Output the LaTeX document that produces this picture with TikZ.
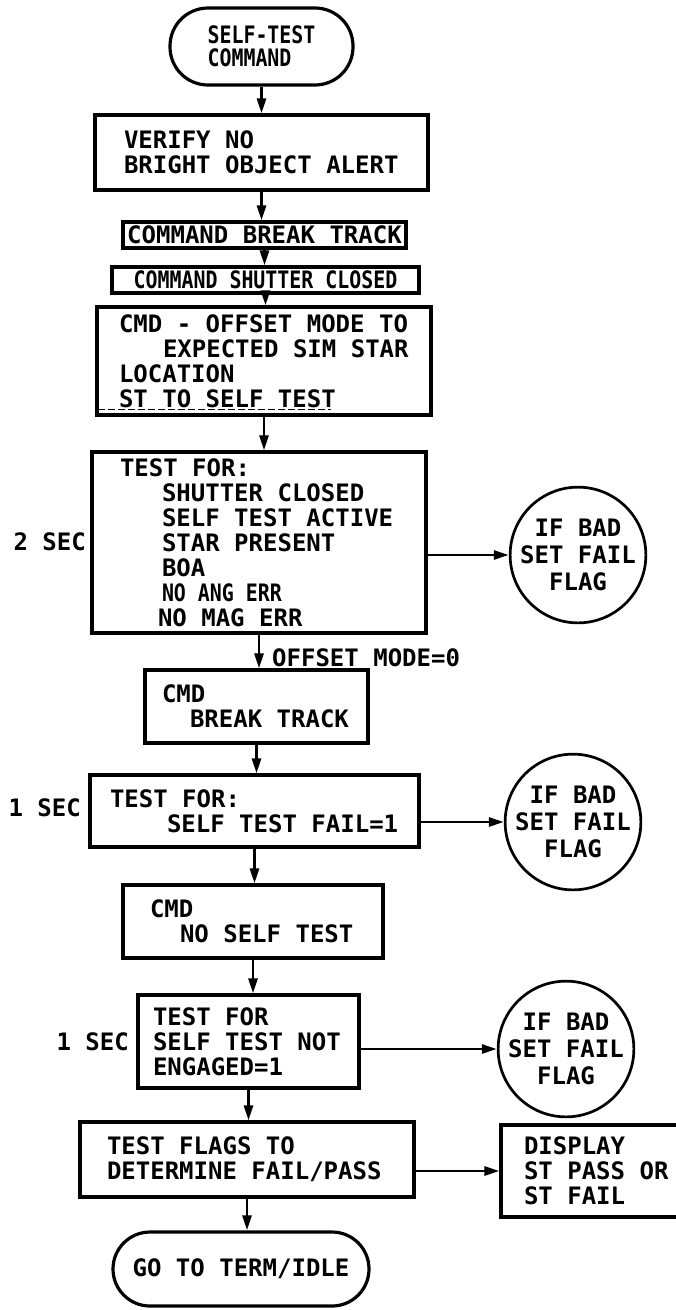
\documentclass[tikz,border=0pt]{standalone}
\usepackage{fontspec}
\newfontfamily\lettering{DejaVu Sans Mono Bold}
\newfontfamily\narrowlettering{DejaVu Sans Mono Bold}[FakeStretch=0.83]
\usetikzlibrary{arrows.meta}
\newcommand\plainspaces{\spaceskip=0pt\xspaceskip=0pt\relax}
\begin{document}
\begin{tikzpicture}[x=1pt,y=-1pt,
  txt/.style={font={\lettering\fontsize{24pt}{25pt}\selectfont}},
  box/.style={txt, draw, line width=3.2pt, rectangle, inner ysep=0pt,
    execute at begin node=\plainspaces},
  mbox/.style={box, align=left},
  term/.style={box, align=left, inner sep=0pt},
  flag/.style={txt, draw, circle, line width=2.7pt, inner sep=0pt, align=center,
    font={\lettering\fontsize{24pt}{27pt}\selectfont},
    execute at begin node=\plainspaces},
  lbl/.style={txt, inner sep=0pt},
  arr/.style={line width=2.8pt, -{Triangle[length=15pt,width=9pt]}},
  uline/.style={line width=1.2pt, dash pattern=on 7pt off 3pt}
]
\fill[white] (0,0) rectangle (676,1310);
\useasboundingbox (0,0) rectangle (676,1310);
\clip (0,0) rectangle (676,1310);

% main column
\node[term, minimum width=183pt, minimum height=77pt, rounded corners=38pt,
  font={\narrowlettering\fontsize{24pt}{23pt}\selectfont}]
  (term1) at (261.5,46.5) {SELF-TEST\\COMMAND};

\node[mbox, minimum height=75pt, text width=275pt, inner xsep=29pt]
  (verify) at (261.5,152.5) {VERIFY NO\\\mbox{BRIGHT OBJECT ALERT}};

\node[box, minimum width=283pt, minimum height=26pt, inner sep=0pt]
  (cbt) at (264.5,235) {COMMAND BREAK TRACK};

\node[box, minimum width=307pt, minimum height=26pt, inner sep=0pt,
  font={\narrowlettering\fontsize{24pt}{25pt}\selectfont}]
  (csc) at (265.5,280) {COMMAND SHUTTER CLOSED};

\node[mbox, minimum height=108pt, text width=290pt, inner xsep=22pt]
  (cmd1) at (264,361) {\mbox{CMD - OFFSET MODE TO}\\
  \mbox{\hspace*{44pt}EXPECTED SIM STAR}\\LOCATION\\\mbox{ST TO SELF TEST}};
\draw[uline] ([shift={(3,-7)}]cmd1.south west) -- ([shift={(236,-7)}]cmd1.south west);

\node[mbox, minimum height=181pt, text width=278pt, inner xsep=28pt]
  (test1) at (259,542.5) {TEST FOR:\\
  \mbox{\hspace*{42pt}SHUTTER CLOSED}\\
  \mbox{\hspace*{42pt}SELF TEST ACTIVE}\\
  \mbox{\hspace*{42pt}STAR PRESENT}\\
  \mbox{\hspace*{42pt}BOA}\\
  \mbox{\hspace*{42pt}{\narrowlettering NO ANG ERR}}\\
  \mbox{\hspace*{38pt}NO MAG ERR}};

\node[mbox, minimum height=73pt, text width=189pt, inner xsep=17pt]
  (cmd2) at (256.5,706.5) {CMD\\\mbox{\hspace*{28pt}BREAK TRACK}};

\node[mbox, minimum height=72pt, text width=289pt, inner xsep=20pt]
  (test2) at (254.5,811) {TEST FOR:\\\mbox{\hspace*{57pt}SELF TEST FAIL=1}};

\node[mbox, minimum height=73pt, text width=206pt, inner xsep=27pt]
  (cmd3) at (253,921.5) {CMD\\\mbox{\hspace*{30pt}NO SELF TEST}};

\node[mbox, minimum height=93pt, text width=191pt, inner xsep=15pt]
  (test3) at (248.5,1041.5) {TEST FOR\\\mbox{SELF TEST NOT}\\ENGAGED=1};

\node[mbox, minimum height=75pt, text width=280pt, inner xsep=27pt]
  (flags) at (247,1159.5) {TEST FLAGS TO\\\mbox{DETERMINE FAIL/PASS}};

\node[term, minimum width=256pt, minimum height=74pt, rounded corners=37pt]
  (term2) at (241,1269) {GO TO TERM/IDLE};

% right column
\node[flag, minimum size=130pt] (flag1) at (578,555) {IF BAD\\SET FAIL\\FLAG};
\node[flag, minimum size=130pt] (flag2) at (573,822) {IF BAD\\SET FAIL\\FLAG};
\node[flag, minimum size=132pt] (flag3) at (566,1049) {IF BAD\\SET FAIL\\FLAG};
\node[mbox, minimum height=92pt, text width=154pt, inner xsep=23pt]
  (display) at (601,1171) {DISPLAY\\ST PASS OR\\ST FAIL};

% labels
\node[lbl, anchor=east] (sec2) at (86,542) {2 SEC};
\node[lbl, anchor=east] (sec1a) at (81,808) {1 SEC};
\node[lbl, anchor=east] (sec1b) at (129,1042) {1 SEC};
\node[lbl, anchor=west] (offset) at (272,658) {OFFSET MODE=0};

% vertical connectors
\draw[arr] (term1.south) -- (term1.south |- verify.north);
\draw[arr] (verify.south) -- (verify.south |- cbt.north);
\draw[arr] (cbt.south) -- (cbt.south |- csc.north);
\draw[arr] (csc.south) -- (csc.south |- cmd1.north);
\draw[arr] (cmd1.south) -- (cmd1.south |- test1.north);
\draw[arr] (test1.south) -- (test1.south |- cmd2.north);
\draw[arr] (cmd2.south) -- (cmd2.south |- test2.north);
\draw[arr] (test2.south) -- (test2.south |- cmd3.north);
\draw[arr] (cmd3.south) -- (cmd3.south |- test3.north);
\draw[arr] (test3.south) -- (test3.south |- flags.north);
\draw[arr] (flags.south) -- (flags.south |- term2.north);

% horizontal connectors
\draw[arr] (flag1.west -| test1.east) -- (flag1.west);
\draw[arr] (flag2.west -| test2.east) -- (flag2.west);
\draw[arr] (flag3.west -| test3.east) -- (flag3.west);
\draw[arr] (display.west -| flags.east) -- (display.west);
\end{tikzpicture}
\end{document}
